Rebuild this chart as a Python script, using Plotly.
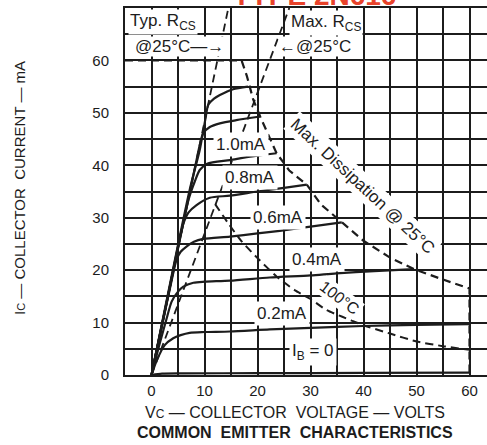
import plotly.graph_objects as go

# ---- data ----
x_ticks = [0, 10, 20, 30, 40, 50, 60]
y_ticks = [0, 10, 20, 30, 40, 50, 60]

ib_0_v = [0, 2, 6, 20, 40, 60]
ib_0_i = [0, 0.25, 0.3, 0.35, 0.4, 0.45]

ib_02_v = [0, 1, 2.5, 4.1, 5.5, 7.2, 10, 14.8, 22.3, 30, 40, 50, 60]
ib_02_i = [0, 2.8, 5.7, 7.0, 7.6, 8.05, 8.2, 8.3, 8.7, 9.0, 9.35, 9.55, 9.7]

ib_04_v = [0, 1.5, 3, 3.8, 5, 6, 7.9, 10, 14.8, 22.3, 30, 34.9, 42, 49.5]
ib_04_i = [0, 5.8, 11.3, 14, 15.9, 16.85, 17.6, 17.8, 18.0, 18.6, 19.0, 19.4, 19.8, 20.2]

ib_06_v = [0, 2, 3.8, 4.7, 5.5, 6.6, 8, 9.75, 14.8, 20, 24.2, 30, 35.9]
ib_06_i = [0, 9.5, 18, 21.9, 23.5, 24.5, 25.4, 25.95, 26.4, 27.0, 27.5, 28.3, 29.1]

ib_08_v = [0, 3, 5, 6, 7, 8.5, 11, 14.8, 20, 25, 29.3]
ib_08_i = [0, 14.5, 24.5, 28.8, 31, 32.4, 33.8, 34.2, 35.0, 35.7, 36.3]

ib_10_v = [0, 4, 7, 8.2, 9.1, 10.5, 14.8, 19, 23.6]
ib_10_i = [0, 19.5, 33.5, 37, 39.1, 40.3, 41.0, 41.7, 42.3]

ib_12_v = [0, 8.5, 9.2, 9.75, 11, 12.9, 16, 20.5]
ib_12_i = [0, 41, 44.3, 46.1, 47.3, 48.0, 48.6, 49.3]

ib_14_v = [0, 7.2, 9.1, 10.2, 10.7, 11.8, 12.9, 15.4, 18.2]
ib_14_i = [0, 35.3, 42.9, 49, 51.5, 52.7, 53.4, 54.5, 55.0]

pd25_v = [-5, 17, 18, 19.2, 20.5, 23.6, 26, 29.3, 32, 35.9, 40, 45, 49.5, 55, 60, 60]
pd25_i = [60, 60, 57, 52.5, 49.3, 42.3, 39, 36.3, 32.5, 29.2, 25.6, 22.4, 20.2, 18.2, 16.5, 0]

pd100_v = [12, 14.5, 17, 20, 23.6, 27, 30, 33, 36, 40, 45, 50, 55, 60]
pd100_i = [32.6, 28.9, 25.5, 22.3, 18.8, 16.2, 14.5, 12.4, 11.1, 9.5, 7.9, 6.4, 5.5, 4.8]

typ_rcs_v = [0, 14.5]
typ_rcs_i = [0, 70]
max_rcs_v = [0, 26]
max_rcs_i = [0, 70]

ib_labels = ["I<sub>B</sub> = 0", "0.2mA", "0.4mA", "0.6mA", "0.8mA", "1.0mA"]
ib_label_v = [30.5, 24.6, 31.2, 23.9, 18.6, 16.9]
ib_label_i = [4.4, 11.8, 22.1, 30.1, 37.6, 43.9]

INK = "#1c1c1c"
FONT = "Liberation Sans"

W, H = 487, 445
ML, MR, MT, MB = 125, 0, 8, 70
PW, PH = W - ML - MR, H - MT - MB


def px_x(px):
    return (px - ML) / PW


def px_y(py):
    return (H - MB - py) / PH


fig = go.Figure()

dash = "8px,5px"
for vx, iy in [(typ_rcs_v, typ_rcs_i), (max_rcs_v, max_rcs_i)]:
    fig.add_trace(go.Scatter(x=vx, y=iy, mode="lines",
                             line=dict(color=INK, width=1.8, dash=dash),
                             showlegend=False, hoverinfo="skip"))
fig.add_trace(go.Scatter(x=pd25_v, y=pd25_i, mode="lines",
                         line=dict(color=INK, width=2.2, dash=dash),
                         showlegend=False, hoverinfo="skip"))
fig.add_trace(go.Scatter(x=pd100_v, y=pd100_i, mode="lines",
                         line=dict(color=INK, width=2.0, dash=dash, shape="spline", smoothing=0.6),
                         showlegend=False, hoverinfo="skip"))

curves = [(ib_0_v, ib_0_i), (ib_02_v, ib_02_i), (ib_04_v, ib_04_i), (ib_06_v, ib_06_i),
          (ib_08_v, ib_08_i), (ib_10_v, ib_10_i), (ib_12_v, ib_12_i), (ib_14_v, ib_14_i)]
for vx, iy in curves:
    fig.add_trace(go.Scatter(x=vx, y=iy, mode="lines",
                             line=dict(color=INK, width=2.2, shape="spline", smoothing=0.7),
                             showlegend=False, hoverinfo="skip"))

annotations = []
for t, vx, iy in zip(ib_labels, ib_label_v, ib_label_i):
    annotations.append(dict(x=vx, y=iy, xref="x", yref="y", text=t, showarrow=False,
                            font=dict(family=FONT, size=17, color=INK),
                            bgcolor="white", borderpad=2))

annotations += [
    dict(x=39.9, y=36.0, xref="x", yref="y", text="Max. Dissipation @ 25°C", showarrow=False,
         textangle=43, font=dict(family=FONT, size=17, color=INK), bgcolor="white", borderpad=2),
    dict(x=35.4, y=14.7, xref="x", yref="y", text="100°C", showarrow=False,
         textangle=37, font=dict(family=FONT, size=16, color=INK), bgcolor="white", borderpad=1),
    dict(x=-4.4, y=67.4, xref="x", yref="y", xanchor="left", text="Typ. R<sub>CS</sub>", showarrow=False,
         font=dict(family=FONT, size=17, color=INK), bgcolor="white", borderpad=1),
    dict(x=-3.3, y=62.6, xref="x", yref="y", xanchor="left", text="@25°C—→", showarrow=False,
         font=dict(family=FONT, size=17, color=INK), bgcolor="white", borderpad=0),
    dict(x=26.0, y=67.2, xref="x", yref="y", xanchor="left", text="Max. R<sub>CS</sub>", showarrow=False,
         font=dict(family=FONT, size=17, color=INK), bgcolor="white", borderpad=1),
    dict(x=23.8, y=62.6, xref="x", yref="y", xanchor="left", text="←@25°C", showarrow=False,
         font=dict(family=FONT, size=17, color=INK), bgcolor="white", borderpad=0),
    dict(x=px_x(294.5), y=px_y(412), xref="paper", yref="paper",
         text="V<span style='font-size:12px'>C</span> — COLLECTOR  VOLTAGE — VOLTS",
         showarrow=False, font=dict(family=FONT, size=16, color=INK), yanchor="middle"),
    dict(x=px_x(294.5), y=px_y(432), xref="paper", yref="paper",
         text="<b>COMMON  EMITTER  CHARACTERISTICS</b>",
         showarrow=False, font=dict(family=FONT, size=16, color=INK), yanchor="middle"),
    dict(x=px_x(19), y=px_y(188), xref="paper", yref="paper",
         text="I<span style='font-size:11px'>C</span> — COLLECTOR  CURRENT — mA",
         showarrow=False, textangle=-90, font=dict(family=FONT, size=15, color=INK),
         xanchor="center", yanchor="middle"),
    dict(x=px_x(314), y=px_y(13), xref="paper", yref="paper", text="<b>TYPE 2N616</b>",
         showarrow=False, font=dict(family=FONT, size=28, color="#e8432b"), yanchor="bottom"),
]

fig.update_layout(
    width=W, height=H,
    margin=dict(l=ML, r=MR, t=MT, b=MB, autoexpand=False),
    paper_bgcolor="white", plot_bgcolor="white",
    annotations=annotations,
    showlegend=False,
)

fig.update_xaxes(range=[-5, 63.3], tickmode="array", tickvals=x_ticks,
                 showgrid=True, gridcolor=INK, gridwidth=1.6,
                 minor=dict(tickmode="linear", tick0=-5, dtick=5, showgrid=True, gridcolor=INK, gridwidth=1.6),
                 showline=True, linecolor=INK, linewidth=2, mirror=True,
                 zeroline=False, ticks="", ticklabelstandoff=1,
                 tickfont=dict(family=FONT, size=15, color=INK), fixedrange=True)
fig.update_yaxes(range=[0, 70], tickmode="array", tickvals=y_ticks,
                 showgrid=True, gridcolor=INK, gridwidth=1.6,
                 minor=dict(tickmode="linear", tick0=0, dtick=5, showgrid=True, gridcolor=INK, gridwidth=1.6),
                 showline=True, linecolor=INK, linewidth=2, mirror=False,
                 zeroline=False, ticks="", ticklabelstandoff=11,
                 tickfont=dict(family=FONT, size=15, color=INK), fixedrange=True)

fig.write_html("out.html", config={"displayModeBar": False},
               post_script="document.body.style.margin='0';document.body.style.overflow='hidden';")
